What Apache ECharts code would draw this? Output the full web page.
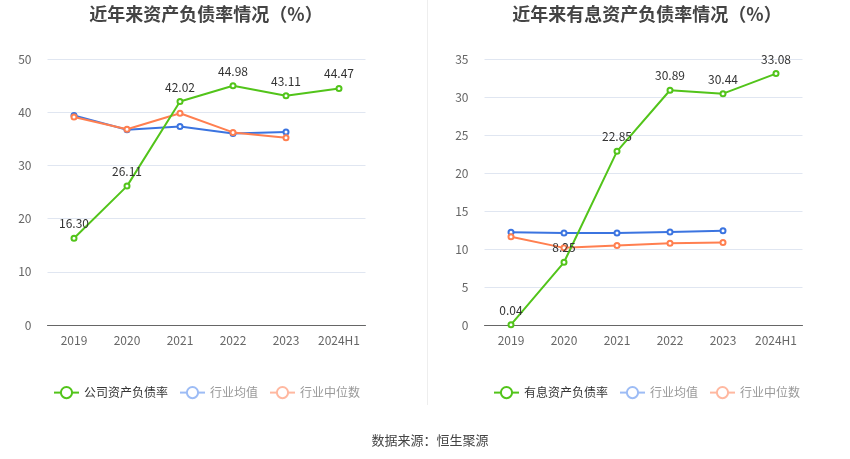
<!DOCTYPE html>
<html><head><meta charset="utf-8">
<script src="https://cdn.jsdelivr.net/npm/echarts@6/dist/echarts.min.js"></script>
<style>html,body{margin:0;padding:0;background:#fff}#c{width:850px;height:459px}</style>
</head><body><div id="c"></div>
<script>
const categories = ['2019','2020','2021','2022','2023','2024H1'];
const companyDebt = [16.30, 26.11, 42.02, 44.98, 43.11, 44.47];
const industryAvg1 = [39.4, 36.7, 37.3, 36.0, 36.3];
const industryMed1 = [39.1, 36.8, 39.8, 36.2, 35.2];
const interestDebt = [0.04, 8.25, 22.85, 30.89, 30.44, 33.08];
const industryAvg2 = [12.2, 12.1, 12.1, 12.25, 12.4];
const industryMed2 = [11.6, 10.15, 10.45, 10.75, 10.85];
const green = '#52c41a', blue = '#3b74e0', orange = '#ff7f50';
const font = '"Noto Sans CJK SC", "Noto Sans", sans-serif';
const chart = echarts.init(document.getElementById('c'));
function mk(name, data, color, xi, withLabel, z) {
  return {
    name, type: 'line', data, xAxisIndex: xi, yAxisIndex: xi,
    symbol: 'emptyCircle', symbolSize: 5, z: z,
    lineStyle: { color, width: 2 }, itemStyle: { color, borderWidth: 1.5 },
    label: withLabel ? { show: true, position: 'top', color: '#333', fontSize: 12, fontFamily: font, distance: 5,
      formatter: p => p.value.toFixed(2) } : { show: false }
  };
}
const xAx = i => ({
  type: 'category', gridIndex: i, data: categories,
  axisLine: { lineStyle: { color: '#666' } },
  axisTick: { alignWithLabel: true, lineStyle: { color: '#666' } },
  axisLabel: { color: '#666', fontSize: 12, fontFamily: font, margin: 9, interval: 0 }
});
const yAx = (i, max, interval) => ({
  type: 'value', gridIndex: i, min: 0, max, interval,
  axisLine: { show: false }, axisTick: { show: false },
  splitLine: { lineStyle: { color: '#e0e6f1' } },
  axisLabel: { color: '#666', fontSize: 12, fontFamily: font, margin: 16 }
});
const legendData = first => [
  { name: first, textStyle: { color: '#333' } },
  { name: '行业均值', itemStyle: { color: '#9dbcf5', borderColor: '#9dbcf5' }, lineStyle: { color: '#9dbcf5' }, textStyle: { color: '#999' } },
  { name: '行业中位数', itemStyle: { color: '#ffb8a0', borderColor: '#ffb8a0' }, lineStyle: { color: '#ffb8a0' }, textStyle: { color: '#999' } }
];
chart.setOption({
  animation: false,
  title: [
    { text: '近年来资产负债率情况（%）', left: 201, top: 0, textAlign: 'center',
      textStyle: { fontSize: 18, fontWeight: 'bold', color: '#444', fontFamily: font } },
    { text: '近年来有息资产负债率情况（%）', left: 642, top: 0, textAlign: 'center',
      textStyle: { fontSize: 18, fontWeight: 'bold', color: '#444', fontFamily: font } },
    { text: '数据来源：恒生聚源', left: 425, top: 429, textAlign: 'center',
      textStyle: { fontSize: 13, fontWeight: 'normal', color: '#444', fontFamily: font } }
  ],
  grid: [
    { left: 47.5, right: 484.5, top: 59, bottom: 134 },
    { left: 484.5, right: 47.5, top: 59, bottom: 134 }
  ],
  legend: [
    { top: 381, left: 48, itemWidth: 25, itemHeight: 14, itemGap: 11, selectedMode: false,
      textStyle: { fontSize: 12, fontFamily: font }, data: legendData('公司资产负债率') },
    { top: 381, left: 488, itemWidth: 25, itemHeight: 14, itemGap: 11, selectedMode: false,
      textStyle: { fontSize: 12, fontFamily: font }, data: legendData('有息资产负债率') }
  ],
  xAxis: [xAx(0), xAx(1)],
  yAxis: [yAx(0, 50, 10), yAx(1, 35, 5)],
  series: [
    mk('行业均值', industryAvg1, blue, 0, false, 2),
    mk('行业中位数', industryMed1, orange, 0, false, 3),
    mk('公司资产负债率', companyDebt, green, 0, true, 4),
    mk('行业均值', industryAvg2, blue, 1, false, 2),
    mk('行业中位数', industryMed2, orange, 1, false, 3),
    mk('有息资产负债率', interestDebt, green, 1, true, 4)
  ],
  graphic: [
    { type: 'line', shape: { x1: 427.5, y1: 0, x2: 427.5, y2: 405 }, style: { stroke: '#eeeeee', lineWidth: 1 } }
  ]
});
</script></body></html>
